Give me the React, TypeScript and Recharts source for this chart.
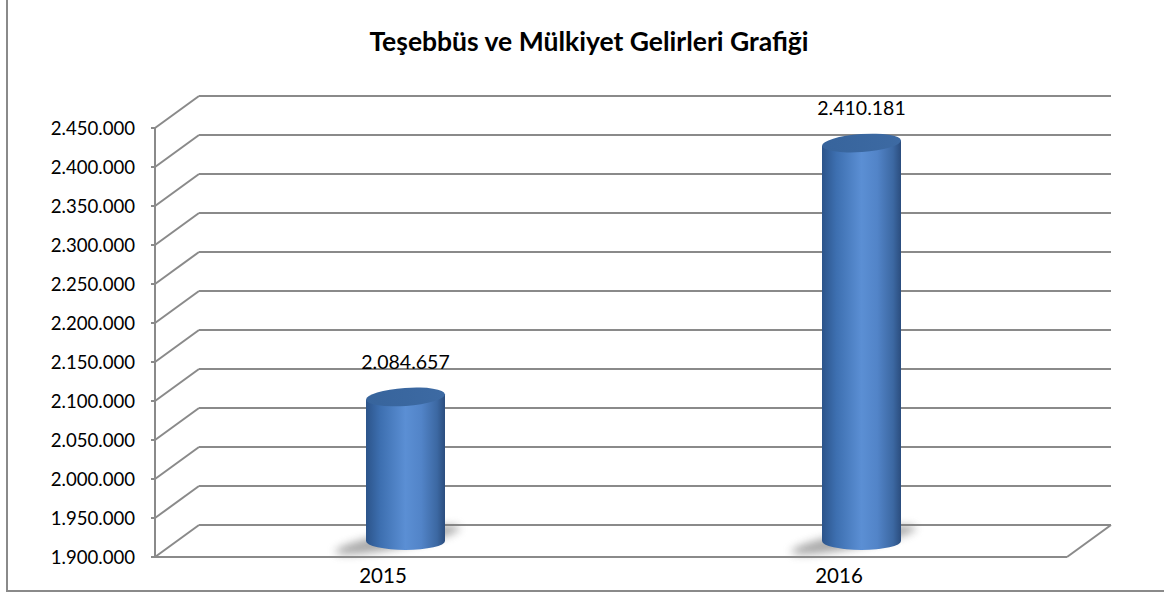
import { BarChart, Bar, XAxis, YAxis, CartesianGrid, LabelList } from 'recharts'

const YEARS = ['2015', '2016']
const GELIR = [2084657, 2410181]
const Y_TICKS = [
  1900000, 1950000, 2000000, 2050000, 2100000, 2150000,
  2200000, 2250000, 2300000, 2350000, 2400000, 2450000,
]

const data = YEARS.map((year, i) => ({ year, gelir: GELIR[i] }))

// 3D-ish depth of the back wall, and half of it for the bars
const DEPTH_X = 44
const DEPTH_Y = -32
const MID_X = DEPTH_X / 2
const MID_Y = DEPTH_Y / 2
const GRID = '#8a8a8a'
const FONT = 'Lato, "Open Sans", sans-serif'

function fmt(v: number) {
  return String(v).replace(/\B(?=(\d{3})+(?!\d))/g, '.')
}

function gridLine(props: any) {
  const { x1, y1, x2, y2, y, height } = props
  const floor = Math.abs(y1 - (y + height)) < 1
  return (
    <g key={props.key}>
      <line x1={x1} y1={y1} x2={x1 + DEPTH_X} y2={y1 + DEPTH_Y} stroke={GRID} strokeWidth={2} />
      <line x1={x1 + DEPTH_X} y1={y1 + DEPTH_Y} x2={x2 + DEPTH_X} y2={y2 + DEPTH_Y} stroke={GRID} strokeWidth={2} />
      {floor && <line x1={x2} y1={y2} x2={x2 + DEPTH_X} y2={y2 + DEPTH_Y} stroke={GRID} strokeWidth={2} />}
    </g>
  )
}

function Cylinder(props: any) {
  const { x, y, width, height } = props
  const rx = width / 2
  const ry = 9
  const tilt = rx * Math.sin((4 * Math.PI) / 180)
  const x0 = x + MID_X
  const x1 = x0 + width
  const cx = x0 + rx
  const top = y + MID_Y
  const bottom = y + height + MID_Y
  return (
    <g>
      <ellipse
        cx={cx - 8} cy={bottom - 1} rx={rx + 24} ry={8}
        fill="#7a7a7a" opacity={0.65} filter="url(#shadowBlur)"
        transform={`rotate(-11 ${cx - 8} ${bottom - 1})`}
      />
      <path
        d={`M${x0},${top + tilt} L${x0},${bottom} A${rx},${ry} 0 0 0 ${x1},${bottom} L${x1},${top - tilt} Z`}
        fill="url(#cylBody)"
      />
      <ellipse cx={cx} cy={top} rx={rx} ry={ry} fill="url(#cylTop)" transform={`rotate(-4 ${cx} ${top})`} />
    </g>
  )
}

function ValueLabel(props: any) {
  const { x, y, width, value } = props
  return (
    <text x={x + width / 2 + MID_X} y={y + MID_Y - 28} textAnchor="middle" fontSize={19.5} fontFamily={FONT} fill="#000">
      {fmt(value)}
    </text>
  )
}

export default function App() {
  return (
    <div style={{ position: 'fixed', left: 0, top: 0, width: 1164, height: 594, background: '#fff' }}>
      <div style={{ position: 'absolute', left: 6, top: 0, width: 1158, height: 590, borderLeft: `2px solid ${GRID}`, borderBottom: `2px solid ${GRID}` }} />
      <div style={{ position: 'absolute', left: 0, top: 25, width: 1178, textAlign: 'center', fontFamily: FONT, fontWeight: 700, fontSize: 26.5, color: '#000' }}>
        Teşebbüs ve Mülkiyet Gelirleri Grafiği
      </div>
      <div style={{ position: 'absolute', left: 0, top: 0 }}>
        <BarChart width={1164} height={594} data={data} margin={{ top: 128, right: 97, bottom: 7, left: 0 }}>
          <defs>
            <linearGradient id="cylBody" x1="0" y1="0" x2="1" y2="0">
              <stop offset="0%" stopColor="#2c548a" />
              <stop offset="18%" stopColor="#3d6fb0" />
              <stop offset="50%" stopColor="#5b8fd4" />
              <stop offset="70%" stopColor="#5284c8" />
              <stop offset="90%" stopColor="#3c68a2" />
              <stop offset="100%" stopColor="#2b4d7e" />
            </linearGradient>
            <linearGradient id="cylTop" x1="0" y1="0" x2="1" y2="0">
              <stop offset="0%" stopColor="#37649c" />
              <stop offset="100%" stopColor="#3d6aa3" />
            </linearGradient>
            <filter id="shadowBlur" x="-50%" y="-100%" width="200%" height="300%">
              <feGaussianBlur stdDeviation="4" />
            </filter>
          </defs>
          <CartesianGrid vertical={false} horizontal={gridLine} />
          <XAxis
            dataKey="year"
            height={30}
            axisLine={{ stroke: GRID, strokeWidth: 2 }}
            tickLine={false}
            tickSize={0}
            tickMargin={11}
            tick={{ fontSize: 20.5, fontFamily: FONT, fill: '#000' }}
          />
          <YAxis
            width={155}
            domain={[1900000, 2450000]}
            ticks={Y_TICKS}
            interval={0}
            tickFormatter={fmt}
            axisLine={{ stroke: GRID, strokeWidth: 2 }}
            tickLine={{ stroke: GRID, strokeWidth: 2 }}
            tickSize={4}
            tickMargin={16}
            tick={{ fontSize: 18.6, fontFamily: FONT, fill: '#000' }}
          />
          <Bar dataKey="gelir" barSize={79} shape={Cylinder} isAnimationActive={false}>
            <LabelList dataKey="gelir" content={ValueLabel} />
          </Bar>
        </BarChart>
      </div>
    </div>
  )
}
